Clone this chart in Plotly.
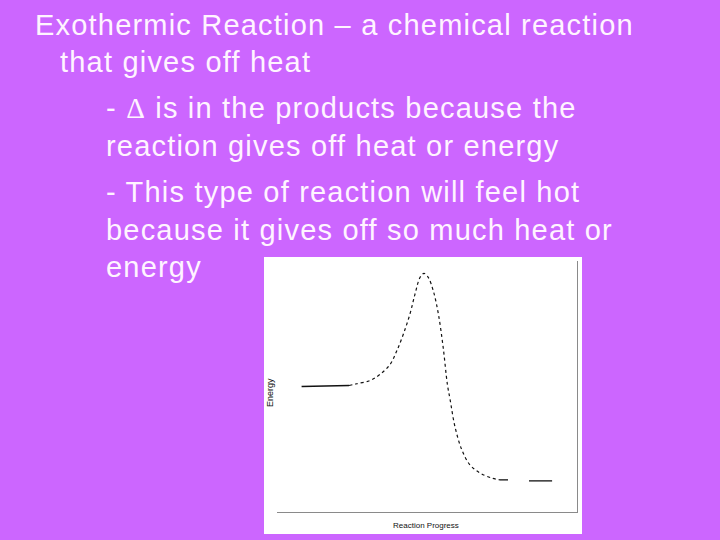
import plotly.graph_objects as go

W, H = 720, 540

# ---- data ----
reactant_x = [8.2, 24.0]
reactant_y = [50.0, 50.4]

curve_x = [24.0, 26.6, 31.0, 34.3, 37.7, 39.9, 42.1, 44.3, 46.0, 47.7, 49.0,
           50.4, 52.1, 53.8, 55.4, 56.8, 57.7, 59.3, 61.6, 64.3, 67.7, 71.6, 74.3]
curve_y = [50.4, 51.1, 52.4, 54.8, 58.8, 64.1, 70.8, 78.8, 86.8, 93.5, 95.1,
           93.5, 88.1, 78.8, 65.5, 50.8, 44.8, 34.1, 24.8, 18.8, 15.5, 13.5, 12.8]

stub_x = [74.3, 77.0]
stub_y = [12.8, 12.8]

product_x = [84.0, 91.7]
product_y = [12.4, 12.4]

x_label = "Reaction Progress"
y_label = "Energy"

text_lines = [
    "Exothermic Reaction \u2013 a chemical reaction",
    "that gives off heat",
    "- <span style=\"font-family:Liberation Serif;font-weight:300\">\u0394</span> is in the products because the",
    "reaction gives off heat or energy",
    "- This type of reaction will feel hot",
    "because it gives off so much heat or",
    "energy",
]
text_left = [33, 58, 104, 104, 104, 104, 104]
text_baseline = [35, 72, 118, 156, 202, 240, 277]

FS = 29
SPACING = "1.2px"

def px(x):
    return x / W

def py(y):
    return 1 - y / H

fig = go.Figure()
fig.add_trace(go.Scatter(x=reactant_x, y=reactant_y, mode="lines",
                         line=dict(color="#111", width=1.3), hoverinfo="skip"))
fig.add_trace(go.Scatter(x=curve_x, y=curve_y, mode="lines",
                         line=dict(color="#111", width=1.2, dash="3px,3px", shape="spline"),
                         hoverinfo="skip"))
fig.add_trace(go.Scatter(x=stub_x, y=stub_y, mode="lines",
                         line=dict(color="#111", width=1.3), hoverinfo="skip"))
fig.add_trace(go.Scatter(x=product_x, y=product_y, mode="lines",
                         line=dict(color="#111", width=1.3), hoverinfo="skip"))

annotations = []
for t, l, b in zip(text_lines, text_left, text_baseline):
    annotations.append(dict(text=f"<span style=\"letter-spacing:{SPACING}\">{t}</span>",
                            x=px(l), y=py(b - 0.35 * FS), xref="paper", yref="paper",
                            xanchor="left", yanchor="middle", showarrow=False,
                            font=dict(family="Liberation Sans", size=FS, color="#FFF4FF")))
annotations.append(dict(text=y_label, x=px(270), y=py(393), xref="paper", yref="paper",
                        textangle=-90, showarrow=False, xanchor="center", yanchor="middle",
                        font=dict(family="Liberation Sans", size=9, color="#111")))
annotations.append(dict(text=x_label, x=px(426), y=py(525), xref="paper", yref="paper",
                        showarrow=False, xanchor="center", yanchor="middle",
                        font=dict(family="Liberation Sans", size=8, color="#111")))

fig.update_layout(
    width=W, height=H, margin=dict(l=0, r=0, t=0, b=0),
    paper_bgcolor="#CC66FF", plot_bgcolor="white", showlegend=False,
    xaxis=dict(domain=[px(277), px(577)], range=[0, 100], showgrid=False, zeroline=False,
               showticklabels=False, ticks="", showline=True, linecolor="#8a8a8a", linewidth=1),
    yaxis=dict(domain=[py(512), py(261)], range=[0, 100], showgrid=False, zeroline=False,
               showticklabels=False, ticks="", side="right", showline=True,
               linecolor="#8a8a8a", linewidth=1),
    shapes=[dict(type="rect", xref="paper", yref="paper", x0=px(264), x1=px(582),
                 y0=py(534), y1=py(257), fillcolor="white", line=dict(width=0), layer="below")],
    annotations=annotations,
)

fig.write_html("out.html", config={"displayModeBar": False},
               post_script="document.body.style.margin='0';document.body.style.overflow='hidden';")
